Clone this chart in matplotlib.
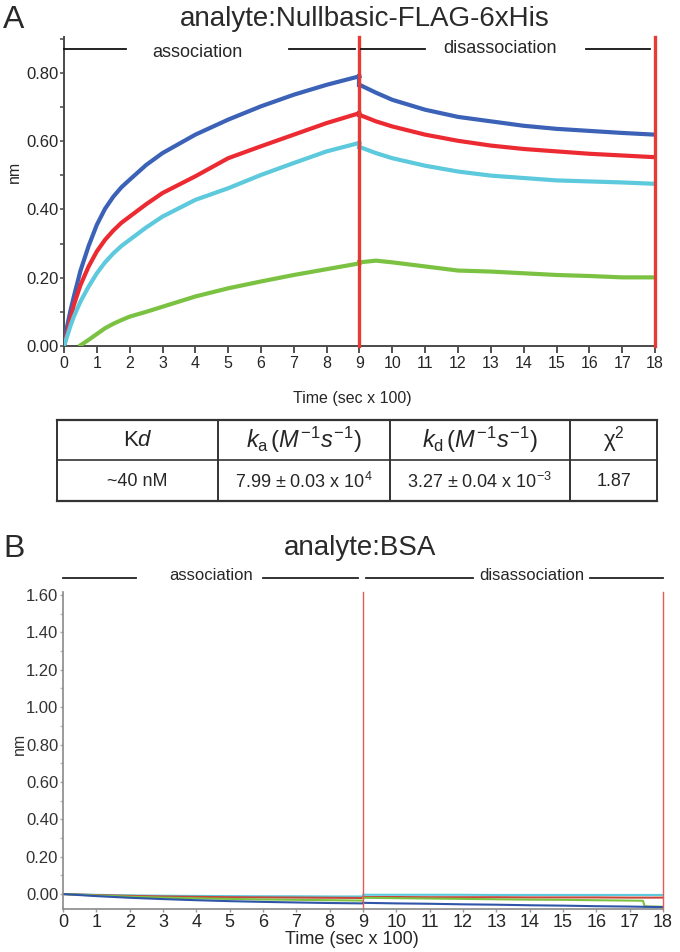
import numpy as np
import matplotlib
matplotlib.use("Agg")
import matplotlib.pyplot as plt
from matplotlib.ticker import MultipleLocator, FormatStrFormatter

plt.rcParams['font.family'] = ['Liberation Sans', 'DejaVu Sans']
plt.rcParams['mathtext.fontset'] = 'custom'
plt.rcParams['mathtext.rm'] = 'Liberation Sans'
plt.rcParams['mathtext.it'] = 'Liberation Sans:italic'
plt.rcParams['mathtext.bf'] = 'Liberation Sans:bold'

# ---------------- Data: panel A (Nullbasic-FLAG-6xHis) ----------------
t_assoc = [0, 0.1, 0.2, 0.3, 0.5, 0.75, 1, 1.25, 1.5, 1.75, 2, 2.5, 3, 4, 5, 6, 7, 8, 9]
t_dissoc = [9, 9.5, 10, 11, 12, 13, 14, 15, 16, 17, 18]

blue_assoc = [0.0, 0.06, 0.105, 0.145, 0.22, 0.293, 0.355, 0.402, 0.437, 0.465, 0.487, 0.53, 0.565, 0.619, 0.663, 0.702, 0.736, 0.765, 0.79]
red_assoc = [0.0, 0.04, 0.08, 0.12, 0.178, 0.233, 0.277, 0.311, 0.338, 0.361, 0.379, 0.415, 0.448, 0.497, 0.55, 0.585, 0.619, 0.653, 0.682]
cyan_assoc = [0.0, 0.03, 0.06, 0.086, 0.13, 0.174, 0.213, 0.245, 0.271, 0.293, 0.311, 0.347, 0.379, 0.428, 0.462, 0.501, 0.536, 0.57, 0.595]
green_assoc = [np.nan, np.nan, np.nan, np.nan, 0.002, 0.018, 0.035, 0.052, 0.065, 0.076, 0.086, 0.10, 0.115, 0.145, 0.169, 0.189, 0.208, 0.225, 0.242]

blue_dissoc = [0.765, 0.742, 0.721, 0.692, 0.671, 0.658, 0.645, 0.636, 0.630, 0.624, 0.619]
red_dissoc = [0.677, 0.658, 0.643, 0.619, 0.601, 0.587, 0.577, 0.570, 0.563, 0.558, 0.553]
cyan_dissoc = [0.583, 0.565, 0.550, 0.528, 0.511, 0.499, 0.492, 0.485, 0.482, 0.479, 0.475]
green_dissoc = [0.245, 0.250, 0.245, 0.233, 0.221, 0.218, 0.213, 0.208, 0.205, 0.201, 0.201]

# ---------------- Table ----------------
table_header = ["K$\\it{d}$", "$k_{\\rm a}\\,(M^{\\!-\\!1}s^{\\!-\\!1})$",
                "$k_{\\rm d}\\,(M^{\\!-\\!1}s^{\\!-\\!1})$", "\u03c7$^{2}$"]
table_values = ["~40 nM", "7.99 \u00b1 0.03 x 10$^{4}$", "3.27 \u00b1 0.04 x 10$^{-3}$", "1.87"]

# ---------------- Data: panel B (BSA) ----------------
tb_assoc = [0, 1, 2, 3, 4, 5, 6, 7, 8, 9]
tb_dissoc = [9, 10, 11, 12, 13, 14, 15, 16, 17, 18]
tb_green_dissoc = [9, 10, 11, 12, 13, 14, 15, 16, 17, 17.4, 17.45, 18]

b_cyan_assoc = [0.0, -0.004, -0.007, -0.009, -0.010, -0.011, -0.012, -0.012, -0.013, -0.013]
b_red_assoc = [0.0, -0.006, -0.010, -0.013, -0.015, -0.017, -0.018, -0.019, -0.020, -0.021]
b_green_assoc = [0.0, -0.008, -0.014, -0.019, -0.023, -0.026, -0.029, -0.031, -0.033, -0.035]
b_blue_assoc = [0.0, -0.011, -0.020, -0.027, -0.033, -0.038, -0.042, -0.045, -0.048, -0.050]

b_cyan_dissoc = [-0.004, -0.004, -0.004, -0.004, -0.005, -0.005, -0.005, -0.005, -0.005, -0.005]
b_red_dissoc = [-0.016, -0.016, -0.017, -0.017, -0.017, -0.018, -0.018, -0.018, -0.019, -0.019]
b_green_dissoc = [-0.020, -0.022, -0.024, -0.026, -0.028, -0.030, -0.031, -0.033, -0.035, -0.036, -0.066, -0.068]
b_blue_dissoc = [-0.047, -0.050, -0.052, -0.055, -0.057, -0.060, -0.062, -0.065, -0.067, -0.070]

BLUE = '#3b62b6'
RED = '#ec2a32'
CYAN = '#5cc9dd'
GREEN = '#7cc242'
VRED = '#e63b35'

W, H = 680, 952
fig = plt.figure(figsize=(W / 100, H / 100), dpi=100)


def fx(px):
    return px / W


def fy(py):
    return 1 - py / H


TXT = '#262626'

# ================= Panel A =================
ax1 = fig.add_axes([fx(64), fy(346), fx(655) - fx(64), fy(37) - fy(346)])
LW = 3.0
for a, d, c in [(blue_assoc, blue_dissoc, BLUE), (red_assoc, red_dissoc, RED),
                (cyan_assoc, cyan_dissoc, CYAN), (green_assoc, green_dissoc, GREEN)]:
    ax1.plot(t_assoc, a, color=c, lw=LW, zorder=3, solid_joinstyle='round')
    ax1.plot(t_dissoc, d, color=c, lw=LW, zorder=3, solid_joinstyle='round')
    ax1.plot([t_assoc[-1], t_dissoc[0]], [a[-1], d[0]], color=c, lw=LW, zorder=3)

ax1.set_xlim(0, 18)
ax1.set_ylim(0, 0.905)
ax1.axvline(9, color=VRED, lw=2.4, zorder=4, clip_on=False)
ax1.axvline(18, color=VRED, lw=2.4, zorder=4, clip_on=False)
for s in ['top', 'right']:
    ax1.spines[s].set_visible(False)
for s in ['left', 'bottom']:
    ax1.spines[s].set_color('#4a4a4a')
    ax1.spines[s].set_linewidth(1.4)
ax1.xaxis.set_major_locator(MultipleLocator(1))
ax1.yaxis.set_major_locator(MultipleLocator(0.2))
ax1.yaxis.set_minor_locator(MultipleLocator(0.1))
ax1.yaxis.set_major_formatter(FormatStrFormatter('%.2f'))
ax1.tick_params(axis='x', direction='out', length=5, width=1.2, color='#333333',
                labelsize=11.5, pad=2, labelcolor=TXT)
ax1.tick_params(axis='y', which='both', direction='out', length=3, width=1.2,
                color='#555555', labelsize=12, pad=1, labelcolor=TXT)

# association / disassociation markers
seg_y = 0.871
for x0, x1 in [(0, 1.9), (6.85, 8.85), (9.05, 11.0), (15.9, 17.85)]:
    ax1.plot([x0, x1], [seg_y, seg_y], color='#111111', lw=1.3, clip_on=False, zorder=5)
ax1.text(4.05, seg_y - 0.012, 'association', ha='center', va='center', fontsize=13, color=TXT)
ax1.text(13.27, seg_y, 'disassociation', ha='center', va='center', fontsize=13, color=TXT)

fig.text(fx(365), fy(19), 'analyte:Nullbasic-FLAG-6xHis', ha='center', va='center',
         fontsize=20, color='#2a2a2a')
fig.text(fx(14), fy(20), 'A', ha='center', va='center', fontsize=23, color='#2a2a2a')
fig.text(fx(14), fy(172), 'nm', ha='center', va='center', rotation=90, fontsize=11.5,
         color=TXT)
fig.text(fx(352), fy(398), 'Time (sec x 100)', ha='center', va='center', fontsize=11.5,
         color=TXT)

# ================= Table =================
TT, TM, TB = 420, 460, 501
tab = fig.add_axes([fx(57), fy(TB), fx(657) - fx(57), fy(TT) - fy(TB)])
tab.set_xlim(57, 657)
tab.set_ylim(TB, TT)
tab.axis('off')
col_edges = [57, 218, 390, 570, 657]
lc = '#333333'
tab.plot([57, 657], [TT, TT], color=lc, lw=1.6, clip_on=False)
tab.plot([57, 657], [TB, TB], color=lc, lw=1.6, clip_on=False)
tab.plot([57, 657], [TM, TM], color=lc, lw=1.2, clip_on=False)
for xe in col_edges:
    tab.plot([xe, xe], [TT, TB], color=lc, lw=1.4, clip_on=False)
header_sizes = [16, 17, 17, 16]
for i, txt in enumerate(table_header):
    xc = (col_edges[i] + col_edges[i + 1]) / 2
    tab.text(xc, (TT + TM) / 2, txt, ha='center', va='center', fontsize=header_sizes[i], color=TXT)
for i, txt in enumerate(table_values):
    xc = (col_edges[i] + col_edges[i + 1]) / 2
    tab.text(xc, (TM + TB) / 2 + 1, txt, ha='center', va='center', fontsize=13, color=TXT)

# ================= Panel B =================
ax2 = fig.add_axes([fx(63), fy(909), fx(663) - fx(63), fy(592) - fy(909)])
lwb = 1.5
BRED = '#c8453a'
BBLUE = '#2f55a8'
ax2.plot(tb_assoc, b_cyan_assoc, color=CYAN, lw=lwb)
ax2.plot(tb_assoc, b_red_assoc, color=BRED, lw=lwb)
ax2.plot(tb_assoc, b_green_assoc, color=GREEN, lw=lwb)
ax2.plot(tb_assoc, b_blue_assoc, color=BBLUE, lw=lwb)
ax2.plot(tb_dissoc, b_cyan_dissoc, color=CYAN, lw=lwb)
ax2.plot(tb_dissoc, b_red_dissoc, color=BRED, lw=lwb)
ax2.plot(tb_green_dissoc, b_green_dissoc, color=GREEN, lw=lwb)
ax2.plot(tb_dissoc, b_blue_dissoc, color=BBLUE, lw=lwb)
ax2.set_xlim(0, 18)
ax2.set_ylim(-0.08, 1.616)
ax2.axvline(9, color='#e85a55', lw=1.0, clip_on=False)
ax2.axvline(18, color='#e85a55', lw=1.0, clip_on=False)
for s in ['top', 'right']:
    ax2.spines[s].set_visible(False)
for s in ['left', 'bottom']:
    ax2.spines[s].set_color('#8a8a8a')
    ax2.spines[s].set_linewidth(1.2)
ax2.xaxis.set_major_locator(MultipleLocator(1))
ax2.yaxis.set_major_locator(MultipleLocator(0.2))
ax2.yaxis.set_minor_locator(MultipleLocator(0.1))
ax2.yaxis.set_major_formatter(FormatStrFormatter('%.2f'))
ax2.tick_params(axis='x', direction='out', length=2, width=1, color='#9a9a9a',
                labelsize=13, pad=1.5, labelcolor=TXT)
ax2.tick_params(axis='y', which='major', direction='out', length=2, width=1,
                color='#aaaaaa', labelsize=12, pad=1.5, labelcolor='#333333')
ax2.tick_params(axis='y', which='minor', direction='out', length=2, width=1, color='#bbbbbb')

seg_yb = 1.69
for x0, x1 in [(0, 2.2), (6.0, 8.85), (9.1, 12.3), (15.8, 18.0)]:
    ax2.plot([x0, x1], [seg_yb, seg_yb], color='#222222', lw=1.3, clip_on=False)
ax2.text(4.45, seg_yb + 0.012, 'association', ha='center', va='center', fontsize=12, color=TXT)
ax2.text(14.05, seg_yb + 0.012, 'disassociation', ha='center', va='center', fontsize=12, color=TXT)

fig.text(fx(360), fy(548), 'analyte:BSA', ha='center', va='center', fontsize=20, color='#2a2a2a')
fig.text(fx(14), fy(549), 'B', ha='center', va='center', fontsize=23, color='#2a2a2a')
fig.text(fx(19), fy(744), 'nm', ha='center', va='center', rotation=90, fontsize=11.5, color='#333333')
fig.text(fx(352), fy(940), 'Time (sec x 100)', ha='center', va='center', fontsize=13, color=TXT)

fig.savefig('out.png', dpi=100)
